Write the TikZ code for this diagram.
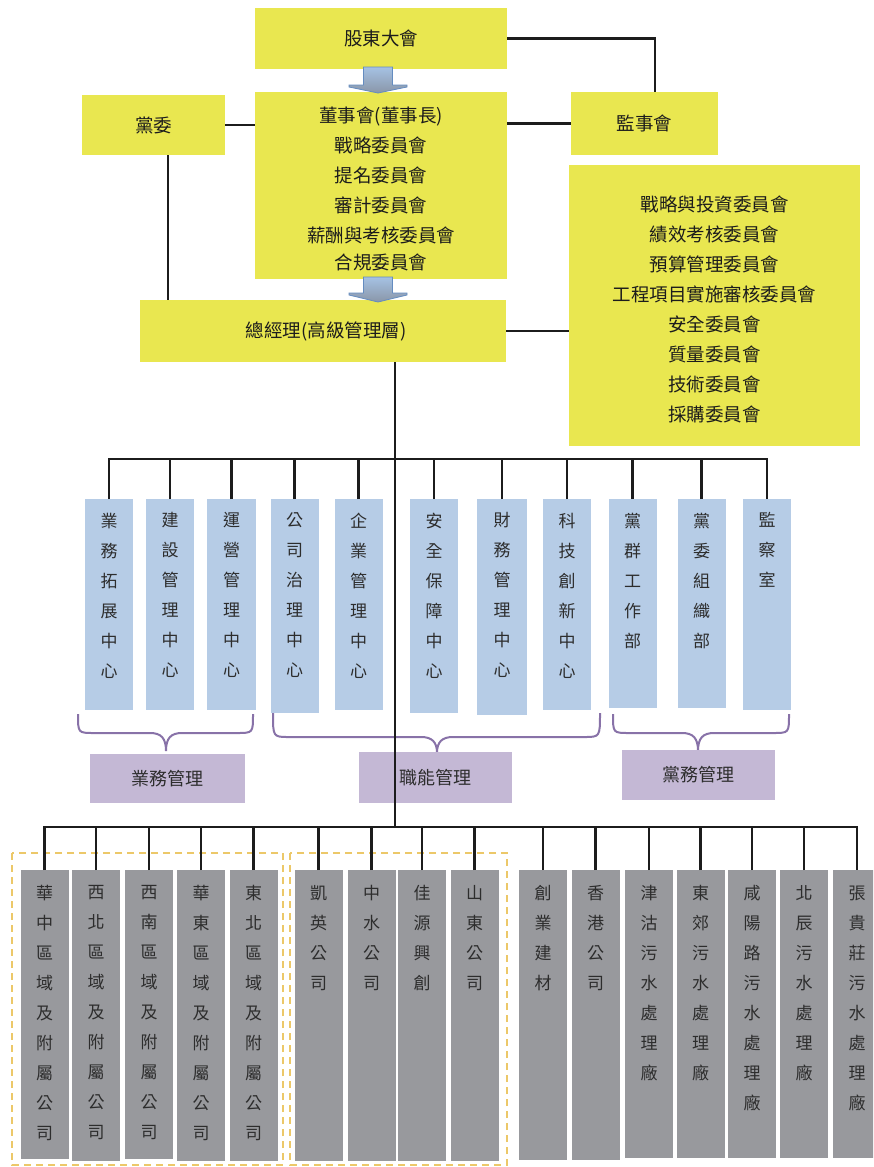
\documentclass[tikz,border=0pt]{standalone}
\usepackage{fontspec}
\setmainfont{Noto Sans CJK TC}
\definecolor{yel}{RGB}{233,231,80}
\definecolor{blu}{RGB}{182,204,230}
\definecolor{pur}{RGB}{196,184,213}
\definecolor{gry}{RGB}{152,153,157}
\definecolor{brc}{RGB}{136,114,168}
\definecolor{dsh}{RGB}{236,200,105}
\definecolor{ink}{RGB}{28,28,28}
\definecolor{txt}{RGB}{45,45,45}
\definecolor{arwtop}{RGB}{165,194,228}
\definecolor{arwbot}{RGB}{138,150,168}
\definecolor{arwedge}{RGB}{100,140,192}
\newcommand\bluecol[5]{%
  \node[bbox, minimum width=#4, minimum height={#3-499}, anchor=north] (#1) at (#2,499) {};
  \node[coltext, anchor=north] at ([yshift=-13.5pt]#1.north) {#5};}
\newcommand\graycol[4]{%
  \node[gbox, minimum height={#3-870}, anchor=north] (#1) at (#2,870) {};
  \node[coltext, anchor=north] at ([yshift=-15.5pt]#1.north) {#4};}
\newcommand\mybrace[6]{%
  \draw[bracestyle] (#1,#4) .. controls (#1,#5) and (#1,#5) .. ({#1+16},#5) -- ({#3-16},#5)
    .. controls ({#3-5},#5) and (#3,{#5+5}) .. (#3,#6)
    .. controls (#3,{#5+5}) and ({#3+5},#5) .. ({#3+16},#5) -- ({#2-16},#5)
    .. controls (#2,#5) and (#2,#5) .. (#2,#4);}
\newcommand\blockarrow[4]{%
  \shade[top color=arwtop, bottom color=arwbot, draw=arwedge, line width=0.8pt]
    ({#1-14.5},#2) -- ({#1+14.5},#2) -- ({#1+14.5},#3) -- ({#1+29},#3) -- ({#1+29},{#3+2})
    -- (#1,#4) -- ({#1-29},{#3+2}) -- ({#1-29},#3) -- ({#1-14.5},#3) -- cycle;}
\begin{document}
\begin{tikzpicture}[x=1pt,y=-1pt,
  ybox/.style={fill=yel, inner sep=0pt, outer sep=0pt, align=center, text=ink,
    font=\fontsize{18.5}{30}\selectfont},
  ytext/.style={inner sep=0pt, align=center, text=ink, font=\fontsize{18.5}{30}\selectfont},
  bbox/.style={fill=blu, inner sep=0pt, outer sep=0pt},
  gbox/.style={fill=gry, inner sep=0pt, outer sep=0pt, minimum width=48},
  coltext/.style={align=center, inner sep=0pt, text=txt, font=\fontsize{17}{30}\selectfont},
  pbox/.style={fill=pur, inner sep=0pt, outer sep=0pt, text=txt, font=\fontsize{18}{20}\selectfont},
  conn/.style={line width=2.5pt, draw=ink},
  bracestyle/.style={line width=2pt, draw=brc},
  dashbox/.style={line width=2.8pt, draw=dsh, dash pattern=on 7pt off 5pt}]
\useasboundingbox (0,0) rectangle (873,1167);
\clip (0,0) rectangle (873,1167);
\fill[white] (0,0) rectangle (873,1167);

% ---- top yellow boxes
\node[ybox, minimum width=252, minimum height=61] (gd) at (381,38.5) {股東大會};
\node[ybox, minimum width=252, minimum height=187] (dsh) at (381,185.5) {};
\node[ytext] at ([yshift=-3.5pt]dsh.center)
  {董事會(董事長)\\戰略委員會\\提名委員會\\審計委員會\\薪酬與考核委員會\\[-3pt]合規委員會};
\node[ybox, minimum width=143, minimum height=60] (dw) at (153.5,125) {黨委};
\node[ybox, minimum width=147, minimum height=63] (jsh) at (644.5,123.5) {監事會};
\node[ybox, minimum width=366, minimum height=62] (zjl) at (323,331) {};
\node[ytext] at ([xshift=3pt]zjl.center) {總經理(高級管理層)};
\node[ybox, minimum width=291, minimum height=281] (wyh) at (714.5,305.5) {};
\node[ytext] at ([yshift=-3.5pt]wyh.center)
  {戰略與投資委員會\\績效考核委員會\\預算管理委員會\\工程項目實施審核委員會\\安全委員會\\質量委員會\\技術委員會\\採購委員會};

\draw[conn] (gd.east) -| ([xshift=10.5pt]jsh.north);
\draw[conn] (dw.east) -- (dw.east -| dsh.west);
\draw[conn] (jsh.west -| dsh.east) -- (jsh.west);
\draw[conn] ([xshift=14.5pt]dw.south) -- ([xshift=14.5pt]dw.south |- zjl.north);
\draw[conn] (zjl.east) -- (zjl.east -| wyh.west);

\blockarrow{378}{67}{85}{93}
\blockarrow{378}{277}{293}{302}

% ---- blue columns
\bluecol{b1}{109}{710}{48}{業\\務\\拓\\展\\中\\心}
\bluecol{b2}{170}{710}{48}{建\\設\\管\\理\\中\\心}
\bluecol{b3}{231.5}{710}{49}{運\\營\\管\\理\\中\\心}
\bluecol{b4}{294.5}{713}{48}{公\\司\\治\\理\\中\\心}
\bluecol{b5}{358.5}{710}{48}{企\\業\\管\\理\\中\\心}
\bluecol{b6}{434}{713}{48}{安\\全\\保\\障\\中\\心}
\bluecol{b7}{502}{715}{50}{財\\務\\管\\理\\中\\心}
\bluecol{b8}{567}{710}{48}{科\\技\\創\\新\\中\\心}
\bluecol{b9}{632.5}{708}{48}{黨\\群\\工\\作\\部}
\bluecol{b10}{701.5}{708}{48}{黨\\委\\組\\織\\部}
\bluecol{b11}{767}{710}{48}{監\\察\\室}

\coordinate (bbar) at (0,459);
\draw[conn] (b1.north) |- (b6.north |- bbar) -| (b11.north);
\foreach \n in {b2,b3,b4,b5,b6,b7,b8,b9,b10}
  \draw[conn] (\n.north) -- (\n.north |- bbar);

% ---- braces and group labels
\mybrace{78}{253}{166}{714}{733}{751}
\mybrace{273}{600}{437}{713}{737}{753}
\mybrace{613}{789}{698}{714}{733}{751}
\node[pbox, minimum width=155, minimum height=49] (p1) at (167.5,778.5) {業務管理};
\node[pbox, minimum width=153, minimum height=51] (p2) at (435.5,777.5) {職能管理};
\node[pbox, minimum width=153, minimum height=50] (p3) at (698.5,775) {黨務管理};

% ---- dashed groups
\draw[dashbox] (12,853) rectangle (283,1165);
\draw[dashbox] (290,853) rectangle (507,1165);

% ---- gray columns
\graycol{g1}{44.5}{1159}{華\\中\\區\\域\\及\\附\\屬\\公\\司}
\graycol{g2}{96}{1161}{西\\北\\區\\域\\及\\附\\屬\\公\\司}
\graycol{g3}{149}{1159}{西\\南\\區\\域\\及\\附\\屬\\公\\司}
\graycol{g4}{201}{1161}{華\\東\\區\\域\\及\\附\\屬\\公\\司}
\graycol{g5}{253.5}{1161}{東\\北\\區\\域\\及\\附\\屬\\公\\司}
\graycol{g6}{318.5}{1161}{凱\\英\\公\\司}
\graycol{g7}{371.5}{1161}{中\\水\\公\\司}
\graycol{g8}{422}{1161}{佳\\源\\興\\創}
\graycol{g9}{474.5}{1161}{山\\東\\公\\司}
\graycol{g10}{543}{1160}{創\\業\\建\\材}
\graycol{g11}{595.5}{1160}{香\\港\\公\\司}
\graycol{g12}{649}{1158}{津\\沽\\污\\水\\處\\理\\廠}
\graycol{g13}{700.5}{1158}{東\\郊\\污\\水\\處\\理\\廠}
\graycol{g14}{752}{1158}{咸\\陽\\路\\污\\水\\處\\理\\廠}
\graycol{g15}{804}{1158}{北\\辰\\污\\水\\處\\理\\廠}
\graycol{g16}{857}{1158}{張\\貴\\莊\\污\\水\\處\\理\\廠}

\coordinate (gbar) at (0,827);
\draw[conn] (g1.north) |- (g8.north |- gbar) -| (g16.north);
\foreach \n in {g2,g3,g4,g5,g6,g7,g8,g9,g10,g11,g12,g13,g14,g15}
  \draw[conn] (\n.north) -- (\n.north |- gbar);

% ---- main trunk
\coordinate (trtop) at ([xshift=72pt]zjl.south);
\draw[conn] (trtop) -- (trtop |- gbar);
\end{tikzpicture}
\end{document}
